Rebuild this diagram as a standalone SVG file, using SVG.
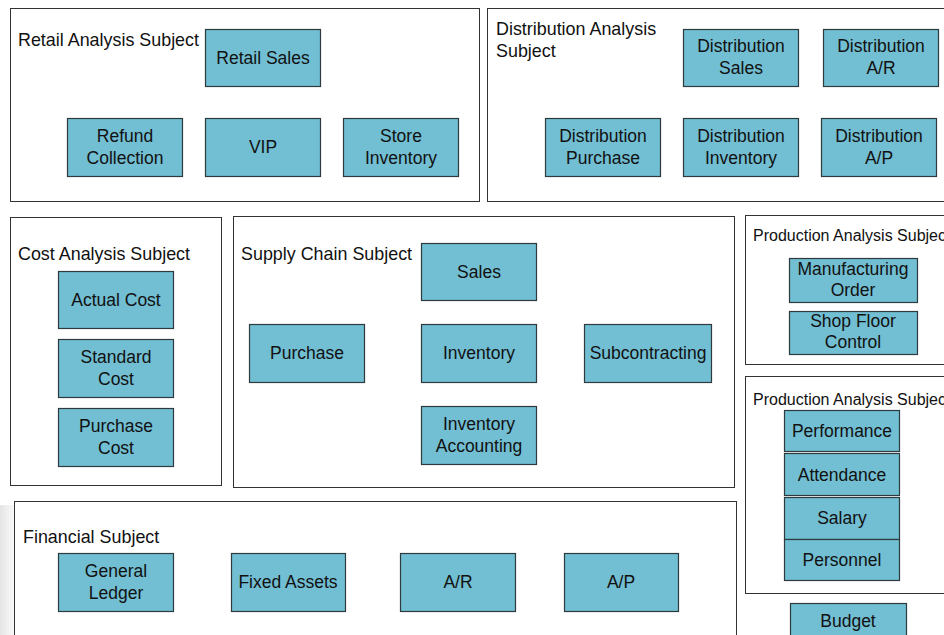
<svg xmlns="http://www.w3.org/2000/svg" width="944" height="635" viewBox="0 0 944 635">
<defs>
<style>
.c{fill:#fff;stroke:#333;stroke-width:1}
.b{fill:#72BED2;stroke:#2f3a3e;stroke-width:1.2}
text{font-family:"Liberation Sans",Arial,sans-serif;fill:#111}
.t{font-size:17.5px;text-anchor:middle}
.l{font-size:17.9px}
.s{font-size:16px}
</style>
<linearGradient id="sh" x1="0" y1="0" x2="1" y2="0">
<stop offset="0" stop-color="#d8d8d8" stop-opacity="0.7"/>
<stop offset="1" stop-color="#fff" stop-opacity="0"/>
</linearGradient>
</defs>
<rect width="944" height="635" fill="#fff"/>
<rect x="0" y="505" width="30" height="130" fill="url(#sh)"/>

<g id="retail">
<rect class="c" x="10.5" y="8.5" width="469" height="193"/>
<text class="l" x="18" y="46">Retail Analysis Subject</text>
</g>
<g id="retail-sales"><rect class="b" x="205.5" y="29.5" width="115" height="57"/><text class="t" x="263" y="64">Retail Sales</text></g>
<g id="refund"><rect class="b" x="67.5" y="118.5" width="115" height="58"/><text class="t" x="125" y="142">Refund</text><text class="t" x="125" y="164">Collection</text></g>
<g id="vip"><rect class="b" x="205.5" y="118.5" width="115" height="58"/><text class="t" x="263" y="153">VIP</text></g>
<g id="store-inv"><rect class="b" x="343.5" y="118.5" width="115" height="58"/><text class="t" x="401" y="142">Store</text><text class="t" x="401" y="164">Inventory</text></g>

<g id="distribution">
<rect class="c" x="487.5" y="8.5" width="460" height="193"/>
<text class="l" x="496" y="35">Distribution Analysis</text>
<text class="l" x="496" y="57">Subject</text>
</g>
<g id="dist-sales"><rect class="b" x="683.5" y="29.5" width="115" height="57"/><text class="t" x="741" y="52">Distribution</text><text class="t" x="741" y="74">Sales</text></g>
<g id="dist-ar"><rect class="b" x="823.5" y="29.5" width="115" height="57"/><text class="t" x="881" y="52">Distribution</text><text class="t" x="881" y="74">A/R</text></g>
<g id="dist-purchase"><rect class="b" x="545.5" y="118.5" width="115" height="58"/><text class="t" x="603" y="142">Distribution</text><text class="t" x="603" y="164">Purchase</text></g>
<g id="dist-inv"><rect class="b" x="683.5" y="118.5" width="115" height="58"/><text class="t" x="741" y="142">Distribution</text><text class="t" x="741" y="164">Inventory</text></g>
<g id="dist-ap"><rect class="b" x="821.5" y="118.5" width="115" height="58"/><text class="t" x="879" y="142">Distribution</text><text class="t" x="879" y="164">A/P</text></g>

<g id="cost">
<rect class="c" x="10.5" y="217.5" width="211" height="268"/>
<text class="l" x="18" y="260">Cost Analysis Subject</text>
</g>
<g id="actual-cost"><rect class="b" x="58.5" y="271.5" width="115" height="57"/><text class="t" x="116" y="306">Actual Cost</text></g>
<g id="standard-cost"><rect class="b" x="58.5" y="339.5" width="115" height="58"/><text class="t" x="116" y="363">Standard</text><text class="t" x="116" y="385">Cost</text></g>
<g id="purchase-cost"><rect class="b" x="58.5" y="408.5" width="115" height="58"/><text class="t" x="116" y="432">Purchase</text><text class="t" x="116" y="454">Cost</text></g>

<g id="supply">
<rect class="c" x="233.5" y="216.5" width="501" height="271"/>
<text class="l" x="241" y="260">Supply Chain Subject</text>
</g>
<g id="sales"><rect class="b" x="421.5" y="243.5" width="115" height="57"/><text class="t" x="479" y="278">Sales</text></g>
<g id="purchase"><rect class="b" x="249.5" y="324.5" width="115" height="58"/><text class="t" x="307" y="359">Purchase</text></g>
<g id="inventory"><rect class="b" x="421.5" y="324.5" width="115" height="58"/><text class="t" x="479" y="359">Inventory</text></g>
<g id="subcontracting"><rect class="b" x="584.5" y="324.5" width="127" height="58"/><text class="t" x="648" y="359">Subcontracting</text></g>
<g id="inv-accounting"><rect class="b" x="421.5" y="406.5" width="115" height="58"/><text class="t" x="479" y="430">Inventory</text><text class="t" x="479" y="452">Accounting</text></g>

<g id="production1">
<rect class="c" x="745.5" y="215.5" width="210" height="149"/>
<text class="s" x="753" y="241">Production Analysis Subject</text>
</g>
<g id="mfg-order"><rect class="b" x="789.5" y="258.5" width="128" height="44"/><text class="t" x="853" y="275">Manufacturing</text><text class="t" x="853" y="296">Order</text></g>
<g id="shop-floor"><rect class="b" x="789.5" y="311.5" width="128" height="43"/><text class="t" x="853" y="327">Shop Floor</text><text class="t" x="853" y="348">Control</text></g>

<g id="production2">
<rect class="c" x="745.5" y="376.5" width="210" height="217"/>
<text class="s" x="753" y="405">Production Analysis Subject</text>
</g>
<g id="performance"><rect class="b" x="784.5" y="410.5" width="115" height="41"/><text class="t" x="842" y="437">Performance</text></g>
<g id="attendance"><rect class="b" x="784.5" y="453.5" width="115" height="42"/><text class="t" x="842" y="481">Attendance</text></g>
<g id="salary"><rect class="b" x="784.5" y="497.5" width="115" height="42"/><text class="t" x="842" y="524">Salary</text></g>
<g id="personnel"><rect class="b" x="784.5" y="539.5" width="115" height="41"/><text class="t" x="842" y="566">Personnel</text></g>
<g id="budget"><rect class="b" x="790.5" y="603.5" width="116" height="40"/><text class="t" x="848" y="627">Budget</text></g>

<g id="financial">
<rect class="c" x="14.5" y="501.5" width="722" height="150"/>
<text class="l" x="23" y="543">Financial Subject</text>
</g>
<g id="general-ledger"><rect class="b" x="58.5" y="553.5" width="115" height="58"/><text class="t" x="116" y="577">General</text><text class="t" x="116" y="599">Ledger</text></g>
<g id="fixed-assets"><rect class="b" x="231.5" y="553.5" width="114" height="58"/><text class="t" x="288" y="588">Fixed Assets</text></g>
<g id="ar"><rect class="b" x="400.5" y="553.5" width="115" height="58"/><text class="t" x="458" y="588">A/R</text></g>
<g id="ap"><rect class="b" x="564.5" y="553.5" width="114" height="58"/><text class="t" x="621" y="588">A/P</text></g>

<g id="connectors"></g>
</svg>
